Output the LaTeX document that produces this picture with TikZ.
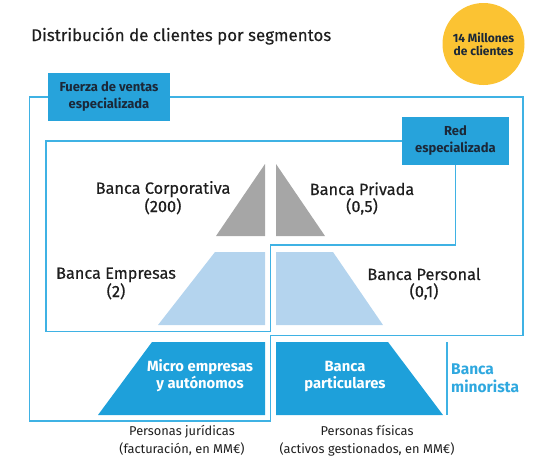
\documentclass[tikz,border=0pt]{standalone}
\usepackage{fontspec}
\setmainfont{Fira Sans}
\newfontfamily\medfont{Fira Sans}[FakeBold=0.4]
\newfontfamily\titlefont{Fira Sans}[FakeBold=0.2]
\definecolor{framec}{HTML}{3FB2E4}
\definecolor{boxc}{HTML}{27A3DB}
\definecolor{darkc}{HTML}{1EA0DA}
\definecolor{lightc}{HTML}{B4D4EE}
\definecolor{greyc}{HTML}{A6A6A6}
\definecolor{yellowc}{HTML}{FBC333}
\definecolor{navyc}{HTML}{1B2838}
\definecolor{textc}{HTML}{1E1E1E}
\definecolor{minoc}{HTML}{2FA8DF}
\tikzset{
  frame/.style={draw=framec, line width=1.3pt},
  boxnode/.style={fill=boxc, text=navyc, inner sep=0pt, align=center,
    font=\bfseries\fontsize{13}{17}\selectfont},
  lbl/.style={text=textc, inner sep=0pt, align=center, anchor=base,
    font=\medfont\fontsize{16.3}{17}\selectfont},
  whitelbl/.style={text=white, inner sep=0pt, align=center, anchor=base,
    font=\bfseries\fontsize{14.8}{16.5}\selectfont},
  smalllbl/.style={text=textc, inner sep=0pt, align=center, anchor=base,
    font=\fontsize{12.8}{18}\selectfont},
  greyshape/.style={fill=greyc},
  lightshape/.style={fill=lightc},
  darkshape/.style={fill=darkc},
}
\begin{document}
\begin{tikzpicture}[x=1pt,y=-1pt]
\useasboundingbox (0,0) rectangle (544,464);
% title and circle
\node[anchor=base west, inner sep=0pt, text=textc, font=\titlefont\fontsize{16.9}{18}\selectfont] (title) at (31,41) {Distribución de clientes por segmentos};
\node[circle, fill=yellowc, minimum size=82pt, inner sep=0pt, align=center, text=navyc,
  font=\bfseries\fontsize{12}{13}\selectfont] (circ) at (483.5,44) {14 Millones\\de clientes};
% shapes
\fill[greyshape] (265,164) -- (265,236) -- (216,236) -- cycle;
\fill[greyshape] (276,164) -- (325,236) -- (276,236) -- cycle;
\fill[lightshape] (215,252) -- (265,252) -- (265,325) -- (158,325) -- cycle;
\fill[lightshape] (276,252) -- (333,252) -- (383,325) -- (276,325) -- cycle;
\fill[darkshape] (152,342) -- (265,342) -- (265,415) -- (98,415) -- cycle;
\fill[darkshape] (276,342) -- (388,342) -- (443,415) -- (276,415) -- cycle;
% boxes
\node[boxnode, minimum width=122pt, minimum height=48pt] (fuerza) at (109,97) {Fuerza de ventas\\especializada};
\node[boxnode, minimum width=107.3pt, minimum height=48.3pt] (red) at (455.4,141) {Red\\especializada};
% frames
\draw[frame] (fuerza.east) -- (523,97) -- (523,335.5) -- (270.5,335.5) -- (270.5,421) -- (29.3,421) -- (29.3,97) -- (fuerza.west);
\draw[frame] (red.west) -- (46,141) -- (46,331.7) -- (270.5,331.7) -- (270.5,245) -- (455.4,245) -- (red.south);
\draw[draw=framec, line width=1.2pt] (447,342) -- (447,415);
% labels (anchor base = baseline of last line)
\node[lbl] (corp) at (163,212) {Banca Corporativa\\(200)};
\node[lbl] (priv) at (362,212) {Banca Privada\\(0,5)};
\node[lbl] (emp) at (116,297) {Banca Empresas\\(2)};
\node[lbl] (pers) at (424,297) {Banca Personal\\(0,1)};
\node[whitelbl] (micro) at (200,388) {Micro empresas\\y autónomos};
\node[whitelbl] (part) at (345,388) {Banca\\particulares};
\node[inner sep=0pt, align=left, anchor=base west, text=minoc,
  font=\bfseries\fontsize{15.5}{18}\selectfont] (mino) at (451,392) {Banca\\minorista};
\node[smalllbl] (jur) at (182,453) {Personas jurídicas\\(facturación, en MM€)};
\node[smalllbl] (fis) at (367,453) {Personas físicas\\(activos gestionados, en MM€)};
\end{tikzpicture}
\end{document}
